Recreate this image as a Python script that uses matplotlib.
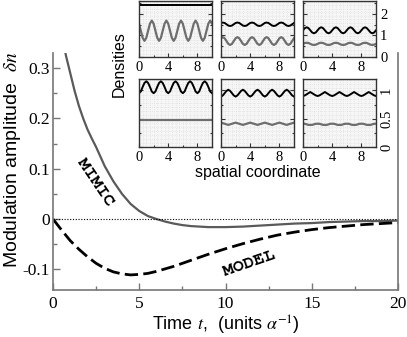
import matplotlib
matplotlib.use("Agg")
import matplotlib.pyplot as plt
import numpy as np

plt.rcParams['font.family'] = ['Liberation Sans', 'DejaVu Sans']
plt.rcParams['mathtext.fontset'] = 'stix'

W, H = 407, 337

# main panel: modulation amplitude vs time
t_mimic = [0.5, 0.75, 1.0, 1.25, 1.5, 1.75, 2.0, 2.25, 2.5, 2.75, 3.0, 3.5, 4.0, 4.5,
           5.0, 5.5, 6.0, 6.5, 7.0, 7.5, 8.0, 9.0, 10.0, 11.0, 12.0, 13.0, 14.0,
           15.0, 16.0, 17.0, 18.0, 19.0, 20.0]
mimic = [0.37, 0.325, 0.29, 0.255, 0.225, 0.2, 0.178, 0.16, 0.143, 0.124, 0.105, 0.075,
         0.05, 0.03, 0.016, 0.006, 0.0, -0.005, -0.009, -0.012, -0.014, -0.016, -0.016,
         -0.015, -0.013, -0.011, -0.009, -0.008, -0.006, -0.005, -0.004, -0.004, -0.003]

t_model = [0, 0.5, 1, 1.5, 2, 2.5, 3, 3.5, 4, 4.5, 5, 5.5, 6, 7, 8, 9, 10, 11, 12,
           13, 14, 15, 16, 17, 18, 19, 20]
model = [0, -0.022, -0.043, -0.06, -0.075, -0.088, -0.098, -0.105, -0.109, -0.111,
         -0.11, -0.108, -0.104, -0.094, -0.082, -0.07, -0.059, -0.049, -0.04, -0.032,
         -0.026, -0.021, -0.017, -0.014, -0.011, -0.009, -0.007]

x_ticks = [0, 5, 10, 15, 20]
x_ticklabels = ['0', '5', '10', '15', '20']
y_ticks = [-0.1, 0, 0.1, 0.2, 0.3]
y_ticklabels = ['-0.1', '0', '0.1', '0.2', '0.3']

# inset: density profiles (black / gray species), x = 0 .. 10 step 0.25
xs = list(np.linspace(0, 10, 41))
x_flat = [0, 10]

r1c1_black = [2.42, 2.42]
r1c1_gray = [1.55, 1.22, 0.89, 0.75, 0.89, 1.22, 1.55, 1.69,
             1.55, 1.22, 0.89, 0.75, 0.89, 1.22, 1.55, 1.69,
             1.55, 1.22, 0.89, 0.75, 0.89, 1.22, 1.55, 1.69,
             1.55, 1.22, 0.89, 0.75, 0.89, 1.22, 1.55, 1.69,
             1.55, 1.22, 0.89, 0.75, 0.89, 1.22, 1.55, 1.69, 1.55]
r1c2_black = [1.58, 1.60, 1.58, 1.52, 1.46, 1.44, 1.46, 1.52,
              1.58, 1.60, 1.58, 1.52, 1.46, 1.44, 1.46, 1.52,
              1.58, 1.60, 1.58, 1.52, 1.46, 1.44, 1.46, 1.52,
              1.58, 1.60, 1.58, 1.52, 1.46, 1.44, 1.46, 1.52,
              1.58, 1.60, 1.58, 1.52, 1.46, 1.44, 1.46, 1.52, 1.58]
r1c2_gray = [0.87, 0.92, 0.87, 0.74, 0.61, 0.56, 0.61, 0.74,
             0.87, 0.92, 0.87, 0.74, 0.61, 0.56, 0.61, 0.74,
             0.87, 0.92, 0.87, 0.74, 0.61, 0.56, 0.61, 0.74,
             0.87, 0.92, 0.87, 0.74, 0.61, 0.56, 0.61, 0.74,
             0.87, 0.92, 0.87, 0.74, 0.61, 0.56, 0.61, 0.74, 0.87]
r1c3_black = [1.24, 1.34, 1.38, 1.34, 1.24, 1.14, 1.10, 1.14,
              1.24, 1.34, 1.38, 1.34, 1.24, 1.14, 1.10, 1.14,
              1.24, 1.34, 1.38, 1.34, 1.24, 1.14, 1.10, 1.14,
              1.24, 1.34, 1.38, 1.34, 1.24, 1.14, 1.10, 1.14,
              1.24, 1.34, 1.38, 1.34, 1.24, 1.14, 1.10, 1.14, 1.24]
r1c3_gray = [0.61, 0.65, 0.66, 0.65, 0.61, 0.57, 0.56, 0.57,
             0.61, 0.65, 0.66, 0.65, 0.61, 0.57, 0.56, 0.57,
             0.61, 0.65, 0.66, 0.65, 0.61, 0.57, 0.56, 0.57,
             0.61, 0.65, 0.66, 0.65, 0.61, 0.57, 0.56, 0.57,
             0.61, 0.65, 0.66, 0.65, 0.61, 0.57, 0.56, 0.57, 0.61]
r2c1_black = [0.95, 0.98, 1.06, 1.13, 1.16, 1.13, 1.06, 0.98,
              0.95, 0.98, 1.06, 1.13, 1.16, 1.13, 1.06, 0.98,
              0.95, 0.98, 1.06, 1.13, 1.16, 1.13, 1.06, 0.98,
              0.95, 0.98, 1.06, 1.13, 1.16, 1.13, 1.06, 0.98,
              0.95, 0.98, 1.06, 1.13, 1.16, 1.13, 1.06, 0.98, 0.95]
r2c1_gray = [0.485, 0.485]
r2c2_black = [0.89, 0.91, 0.95, 0.99, 1.01, 0.99, 0.95, 0.91,
              0.89, 0.91, 0.95, 0.99, 1.01, 0.99, 0.95, 0.91,
              0.89, 0.91, 0.95, 0.99, 1.01, 0.99, 0.95, 0.91,
              0.89, 0.91, 0.95, 0.99, 1.01, 0.99, 0.95, 0.91,
              0.89, 0.91, 0.95, 0.99, 1.01, 0.99, 0.95, 0.91, 0.89]
r2c2_gray = [0.43, 0.42, 0.41, 0.40, 0.39, 0.40, 0.41, 0.42,
             0.43, 0.42, 0.41, 0.40, 0.39, 0.40, 0.41, 0.42,
             0.43, 0.42, 0.41, 0.40, 0.39, 0.40, 0.41, 0.42,
             0.43, 0.42, 0.41, 0.40, 0.39, 0.40, 0.41, 0.42,
             0.43, 0.42, 0.41, 0.40, 0.39, 0.40, 0.41, 0.42, 0.43]
r2c3_black = [0.90, 0.91, 0.93, 0.95, 0.97, 0.95, 0.93, 0.91,
              0.90, 0.91, 0.93, 0.95, 0.97, 0.95, 0.93, 0.91,
              0.90, 0.91, 0.93, 0.95, 0.97, 0.95, 0.93, 0.91,
              0.90, 0.91, 0.93, 0.95, 0.97, 0.95, 0.93, 0.91,
              0.90, 0.91, 0.93, 0.95, 0.97, 0.95, 0.93, 0.91, 0.90]
r2c3_gray = [0.41, 0.41, 0.40, 0.39, 0.39, 0.39, 0.40, 0.41,
             0.41, 0.41, 0.40, 0.39, 0.39, 0.39, 0.40, 0.41,
             0.41, 0.41, 0.40, 0.39, 0.39, 0.39, 0.40, 0.41,
             0.41, 0.41, 0.40, 0.39, 0.39, 0.39, 0.40, 0.41,
             0.41, 0.41, 0.40, 0.39, 0.39, 0.39, 0.40, 0.41, 0.41]

inset_x_ticks = [0, 4, 8]
row1_y_ticks = [0, 1, 2]
row1_y_labels = ['0', '1', '2']
row2_y_ticks = [0, 0.5, 1]
row2_y_labels = ['0', '0.5', '1']

COURIER = ['FreeMono', 'Courier Prime', 'Liberation Mono']


def px_box(x0, y0, x1, y1):
    return [x0 / W, 1 - y1 / H, (x1 - x0) / W, (y1 - y0) / H]


fig = plt.figure(figsize=(W / 100, H / 100), dpi=100)

ax = fig.add_axes(px_box(53, 53, 398, 290))
ax.plot(t_mimic, mimic, color='#5a5a5a', lw=1.6, solid_capstyle='butt')
ax.plot(t_model, model, color='black', lw=2.0, dashes=(4.8, 1.9))
ax.axhline(0, color='black', lw=0.8, ls=(0, (1, 1.5)))
ax.set_xlim(0, 20)
ax.set_ylim(-0.141, 0.33)
ax.set_xticks(x_ticks)
ax.set_xticklabels(x_ticklabels)
ax.set_xticks([2.5, 7.5, 12.5, 17.5], minor=True)
ax.set_yticks(y_ticks)
ax.set_yticklabels(y_ticklabels)
ax.set_yticks([-0.05, 0.05, 0.15, 0.25], minor=True)
ax.tick_params(labelfontfamily='Liberation Serif', labelsize=12.5)
ax.tick_params(which='both', direction='in', color='#777777', width=1.0)
ax.tick_params(which='major', length=5)
ax.tick_params(which='minor', length=3)
ax.tick_params(axis='y', pad=2)
ax.tick_params(axis='x', pad=4)
ax.spines['top'].set_visible(False)
for s in ['left', 'bottom', 'right']:
    ax.spines[s].set_color('#777777')
    ax.spines[s].set_linewidth(1.2)

ax.text(2.45, 0.072, 'MIMIC', family=COURIER, weight='bold', size=13,
        rotation=-56, ha='center', va='center', rotation_mode='anchor')
ax.text(11.4, -0.089, 'MODEL', family=COURIER, weight='bold', size=13,
        rotation=19, ha='center', va='center', rotation_mode='anchor')

fig.text(13 / W, 1 - 160 / H, 'Modulation amplitude  $\\delta n$', rotation=90,
         ha='center', va='center', size=14)
fig.text(226 / W, 1 - 325 / H, 'Time $t$,  (units $\\alpha^{-1}$)',
         ha='center', va='center', size=13)

# inset grid of density profiles
cols = [(139, 212), (221, 294), (303, 376)]
rows = [(1, 57), (79, 147)]
panels = [
    [(x_flat, r1c1_black, xs, r1c1_gray), (xs, r1c2_black, xs, r1c2_gray),
     (xs, r1c3_black, xs, r1c3_gray)],
    [(xs, r2c1_black, x_flat, r2c1_gray), (xs, r2c2_black, xs, r2c2_gray),
     (xs, r2c3_black, xs, r2c3_gray)],
]

for i, (y0, y1) in enumerate(rows):
    for j, (x0, x1) in enumerate(cols):
        a = fig.add_axes(px_box(x0, y0, x1, y1))
        a.set_facecolor('#f6f6f6')
        ymax = 2.6 if i == 0 else 1.2
        ystep = 0.16 if i == 0 else 0.07
        a.vlines(np.arange(0.5, 10, 0.5), 0, ymax, color='#d9d9d9', lw=0.5,
                 ls=(0, (1, 2)), zorder=0)
        a.hlines(np.arange(ystep, ymax, ystep), 0, 10, color='#d9d9d9', lw=0.5,
                 ls=(0, (1, 2)), zorder=0)
        bx, by, gx, gy = panels[i][j]
        a.plot(gx, gy, color='#6e6e6e', lw=1.6)
        a.plot(bx, by, color='black', lw=1.4)
        a.set_xlim(0, 10)
        a.set_ylim(0, ymax)
        a.set_xticks(inset_x_ticks)
        a.set_xticks([2, 6], minor=True)
        if i == 0:
            a.set_yticks(row1_y_ticks)
            a.set_yticklabels(row1_y_labels)
            a.set_yticks([0.5, 1.5, 2.5], minor=True)
        else:
            a.set_yticks(row2_y_ticks)
            a.set_yticklabels(row2_y_labels)
            a.set_yticks([0.25, 0.75], minor=True)
        a.tick_params(which='both', direction='in', left=True, right=True,
                      color='#333333', width=0.8, labelsize=10.5, pad=3,
                      labelfontfamily='Liberation Serif')
        a.tick_params(which='major', length=3)
        a.tick_params(which='minor', length=1.5)
        a.tick_params(axis='y', labelleft=False, labelright=(j == 2))
        if i == 1:
            a.tick_params(axis='y', labelrotation=90)
            for lab in a.get_yticklabels():
                lab.set_va('center')
        for s in a.spines.values():
            s.set_color('#333333')
            s.set_linewidth(1.0)

fig.text(119 / W, 1 - 64 / H, 'Densities', rotation=90, ha='center', va='center',
         size=11.5)
fig.text(258 / W, 1 - 172 / H, 'spatial coordinate', ha='center', va='center',
         size=11.5)

fig.savefig('out.png', dpi=100)
